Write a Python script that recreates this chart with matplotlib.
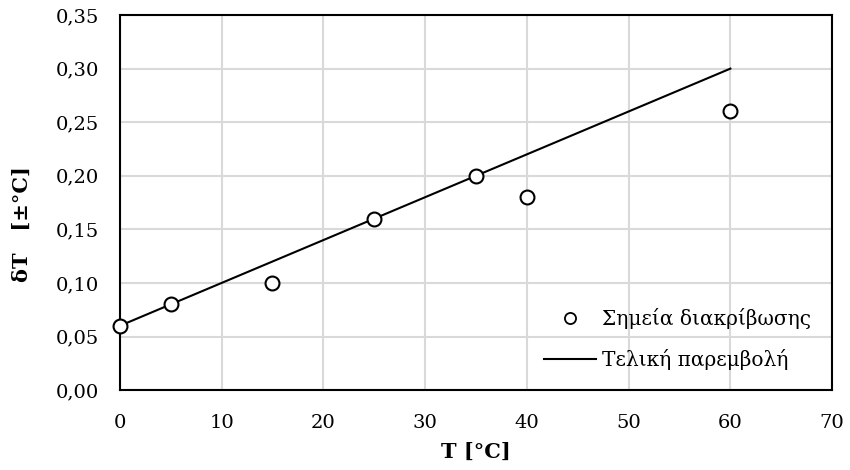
import matplotlib.pyplot as plt
from matplotlib.lines import Line2D
from matplotlib.ticker import MultipleLocator, FuncFormatter

# calibration points
T_cal = [0, 5, 15, 25, 35, 40, 60]
dT_cal = [0.06, 0.08, 0.10, 0.16, 0.20, 0.18, 0.26]

# final fit line end points
T_fit = [0, 60]
dT_fit = [0.06, 0.30]

plt.rcParams['font.family'] = ['DejaVu Serif']

fig = plt.figure(figsize=(8.5, 4.7), dpi=100)
ax = fig.add_axes([0.141, 0.170, 0.838, 0.798])

ax.plot(T_cal, dT_cal, 'o', ms=10, mfc='white', mec='black', mew=1.5,
        zorder=3, clip_on=False)
ax.plot(T_fit, dT_fit, '-', color='black', lw=1.5, zorder=2)

ax.set_xlim(0, 70)
ax.set_ylim(0, 0.35)
ax.xaxis.set_major_locator(MultipleLocator(10))
ax.yaxis.set_major_locator(MultipleLocator(0.05))
ax.yaxis.set_major_formatter(FuncFormatter(lambda v, p: f'{v:.2f}'.replace('.', ',')))
ax.tick_params(axis='x', length=0, labelsize=14, pad=17)
ax.tick_params(axis='y', length=0, labelsize=14, pad=15)

ax.grid(True, color='#d9d9d9', lw=1.5)
ax.set_axisbelow(True)
for s in ax.spines.values():
    s.set_linewidth(1.5)
    s.set_color('black')

ax.set_xlabel('T [°C]', fontsize=15, fontweight='bold', labelpad=7)
ax.set_ylabel('δT   [±°C]', fontsize=15, fontweight='bold')
ax.yaxis.set_label_coords(-0.124, 0.443)

# legend handles: smaller marker than in the plot
handles = [
    Line2D([], [], ls='none', marker='o', ms=8, mfc='white', mec='black', mew=1.3),
    Line2D([], [], color='black', lw=1.5),
]
labels = ['Σημεία διακρίβωσης', 'Τελική παρεμβολή']
ax.legend(handles, labels, loc='lower right', frameon=False, fontsize=14.5,
          handlelength=2.6, handletextpad=0.3, labelspacing=1.0,
          bbox_to_anchor=(0.996, 0.005))

fig.savefig('out.png', dpi=100)
